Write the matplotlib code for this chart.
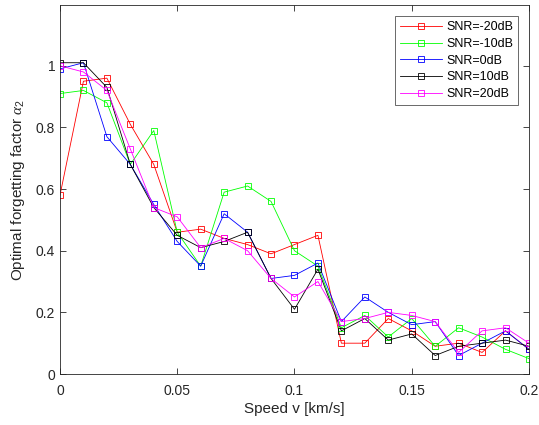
import numpy as np
import matplotlib
matplotlib.use("Agg")
import matplotlib.pyplot as plt

plt.rcParams['font.family'] = ['Liberation Sans', 'DejaVu Sans']
plt.rcParams['mathtext.fontset'] = 'custom'
plt.rcParams['mathtext.it'] = 'Liberation Serif:italic'
plt.rcParams['mathtext.rm'] = 'Liberation Sans'

speed = [round(0.01 * i, 2) for i in range(21)]
snr_m20 = [0.58, 0.95, 0.96, 0.81, 0.68, 0.46, 0.47, 0.44, 0.42, 0.39, 0.42, 0.45, 0.10, 0.10, 0.18, 0.14, 0.09, 0.10, 0.07, 0.14, 0.08]
snr_m10 = [0.91, 0.92, 0.88, 0.68, 0.79, 0.46, 0.35, 0.59, 0.61, 0.56, 0.40, 0.35, 0.15, 0.19, 0.12, 0.18, 0.09, 0.15, 0.12, 0.08, 0.05]
snr_0 = [0.99, 1.01, 0.77, 0.68, 0.55, 0.43, 0.35, 0.52, 0.46, 0.31, 0.32, 0.36, 0.17, 0.25, 0.20, 0.16, 0.17, 0.06, 0.10, 0.14, 0.08]
snr_10 = [1.01, 1.01, 0.93, 0.68, 0.54, 0.45, 0.41, 0.43, 0.46, 0.31, 0.21, 0.34, 0.14, 0.18, 0.11, 0.13, 0.06, 0.09, 0.10, 0.11, 0.09]
snr_20 = [1.00, 0.98, 0.92, 0.73, 0.54, 0.51, 0.41, 0.44, 0.40, 0.31, 0.25, 0.30, 0.17, 0.18, 0.20, 0.19, 0.17, 0.07, 0.14, 0.15, 0.10]
labels = ['SNR=-20dB', 'SNR=-10dB', 'SNR=0dB', 'SNR=10dB', 'SNR=20dB']
colors = ['#ff0000', '#00ff00', '#0000ff', '#000000', '#ff00ff']

fig = plt.figure(figsize=(5.39, 4.25), dpi=100)
ax = fig.add_axes([0.1113, 0.12, 0.8701, 0.868])
for ys, lab, c in zip([snr_m20, snr_m10, snr_0, snr_10, snr_20], labels, colors):
    ax.plot(speed, ys, color=c, lw=0.6, marker='s', ms=5, mfc='none', mec=c, mew=0.6, label=lab)

ax.set_xlim(0, 0.2)
ax.set_ylim(0, 1.197)
ax.set_xticks([0, 0.05, 0.1, 0.15, 0.2])
ax.set_xticklabels(['0', '0.05', '0.1', '0.15', '0.2'])
ax.set_yticks([0, 0.2, 0.4, 0.6, 0.8, 1.0])
ax.set_yticklabels(['0', '0.2', '0.4', '0.6', '0.8', '1'])
ax.tick_params(direction='in', top=True, right=True, labelsize=10, colors='#262626', length=4, width=0.6)
ax.tick_params(axis='x', pad=7)
for s in ax.spines.values():
    s.set_color('#262626')
    s.set_linewidth(0.6)
ax.set_xlabel('Speed v [km/s]', fontsize=11, color='#262626', labelpad=3)
ax.set_ylabel(r'Optimal forgetting factor $\alpha_2$', fontsize=11, color='#262626', labelpad=6)
leg = ax.legend(loc='upper right', fontsize=9, frameon=True, fancybox=False, handlelength=3.4,
                borderpad=0.4, labelspacing=0.38, handletextpad=0.3, borderaxespad=0,
                bbox_to_anchor=(0.9765, 0.97))
leg.get_frame().set_edgecolor('#262626')
leg.get_frame().set_linewidth(0.6)
fig.savefig('out.png', dpi=100)
